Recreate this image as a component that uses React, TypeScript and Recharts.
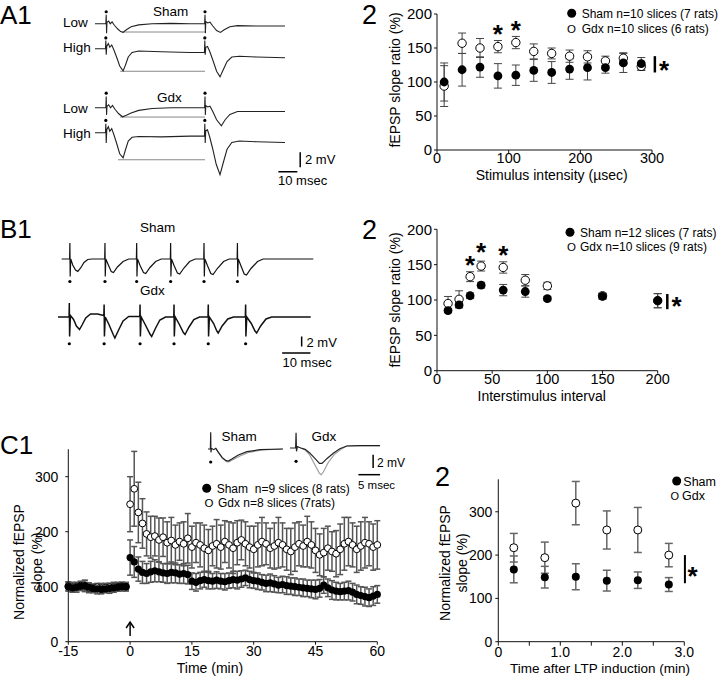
import React from 'react';
import {
  ScatterChart, Scatter, ComposedChart, Line, XAxis, YAxis, ErrorBar, ReferenceLine, ReferenceDot,
} from 'recharts';

const FONT = 'Arial, "Liberation Sans", Helvetica, sans-serif';

// ---------- A2: paired-pulse ratio vs stimulus intensity ----------
const a2Intensity = [10, 35, 60, 85, 110, 135, 160, 185, 210, 235, 260, 285];
const a2Sham = [100, 118, 122, 109, 110, 117, 114, 119, 121, 121, 128, 127];
const a2ShamErr = [28, 24, 15, 18, 15, 16, 16, 15, 18, 8, 14, 9];
const a2Gdx = [94, 157, 150, 152, 158, 145, 142, 138, 137, 131, 135, 123];
const a2GdxErr = [30, 15, 14, 9, 9, 11, 8, 9, 9, 7, 8, 6];
const a2Stars = [{ x: 85, y: 179 }, { x: 110, y: 185 }];

// ---------- B2: ratio vs interstimulus interval ----------
const b2Interval = [10, 20, 30, 40, 60, 80, 100, 150, 200];
const b2Sham = [85, 93, 106, 121, 114, 112, 102, 105, 99];
const b2ShamErr = [3, 4, 4, 4, 8, 8, 3, 4, 10];
const b2Gdx = [95, 101, 133, 148, 146, 128, 120, 106, 99];
const b2GdxErr = [10, 12, 7, 7, 8, 8, 5, 4, 10];
const b2Stars = [{ x: 30, y: 157 }, { x: 40, y: 175 }, { x: 60, y: 171 }];

// ---------- C1: LTP time course ----------
const c1Time = [
  -15, -14, -13, -12, -11, -10, -9, -8, -7, -6, -5, -4, -3, -2, -1,
  0, 1, 2, 3, 4, 5, 6, 7, 8, 9, 10, 11, 12, 13, 14, 15, 16, 17, 18, 19,
  20, 21, 22, 23, 24, 25, 26, 27, 28, 29, 30, 31, 32, 33, 34, 35, 36, 37, 38, 39,
  40, 41, 42, 43, 44, 45, 46, 47, 48, 49, 50, 51, 52, 53, 54, 55, 56, 57, 58, 59, 60,
];
const c1Sham = [
  100, 98, 99, 101, 102, 99, 97, 96, 95, 96, 97, 98, 99, 100, 100,
  153, 145, 132, 126, 124, 127, 129, 127, 125, 124,
  126, 125, 123, 124, 122, 110, 108, 111, 113, 111,
  110, 112, 110, 109, 111, 113, 112, 114, 116, 113,
  111, 110, 108, 106, 107, 105, 103, 104, 102, 101,
  100, 99, 98, 97, 96, 95, 97, 103, 98, 94,
  92, 91, 92, 93, 90, 86, 84, 82, 80, 83,
  86,
];
const c1ShamErr = [
  8, 7, 9, 8, 10, 8, 7, 9, 8, 7, 9, 8, 7, 8, 6,
  32, 28, 22, 20, 18, 19, 20, 18, 17, 18,
  19, 18, 17, 18, 17, 15, 16, 15, 14, 15,
  14, 15, 14, 15, 14, 15, 16, 15, 14, 15,
  14, 15, 14, 15, 16, 15, 14, 15, 16, 15,
  16, 15, 16, 15, 16, 17, 16, 15, 16, 17,
  16, 15, 16, 17, 16, 17, 16, 17, 16, 17,
  16,
];
const c1Gdx = [
  101, 99, 100, 102, 101, 98, 97, 99, 97, 98, 99, 99, 100, 101, 100,
  250, 278, 235, 215, 196, 190, 192, 185, 190, 180,
  184, 176, 182, 178, 188, 172, 180, 176, 170, 166,
  174, 178, 172, 182, 176, 170, 180, 185, 178, 172,
  168, 176, 182, 178, 170, 174, 180, 176, 168, 164,
  172, 178, 174, 182, 176, 166, 158, 162, 170, 164,
  160, 168, 178, 182, 176, 168, 174, 180, 178, 172,
  176,
];
const c1GdxErr = [
  8, 9, 7, 8, 10, 9, 8, 7, 9, 8, 7, 9, 8, 7, 8,
  50, 68, 55, 45, 40, 38, 36, 40, 35, 38,
  42, 36, 34, 40, 45, 38, 36, 40, 42, 38,
  36, 44, 40, 38, 42, 46, 40, 36, 40, 38,
  42, 40, 44, 38, 36, 42, 46, 40, 38, 42,
  44, 40, 38, 46, 42, 40, 38, 44, 40, 36,
  42, 46, 48, 44, 40, 42, 44, 46, 40, 42,
  44,
];

// ---------- C2: potentiation in first 3 min ----------
const c2Time = [0.25, 0.75, 1.25, 1.75, 2.25, 2.75];
const c2Sham = [167, 149, 150, 141, 142, 132];
const c2ShamErr = [31, 25, 30, 24, 19, 16];
const c2Gdx = [217, 194, 320, 258, 258, 200];
const c2GdxErr = [33, 36, 50, 44, 52, 27];

// ---------- example traces (t in msec, v in mV) ----------
const a1ShamLow = [[0, 0], [5.7, 0], [5.9, 1.2], [6.1, -1.25], [6.3, 0.2], [7.2, 0.35], [8, 0], [9, 0.25], [10.2, -0.2], [12, -0.7], [13.5, -1.05], [14.8, -1.15], [16.5, -0.8], [19, -0.4], [23, -0.15], [30, 0], [40, 0.05], [50, 0], [57.7, 0], [57.9, 1.2], [58.1, -1.25], [58.3, 0.3], [59.3, 0.1], [60.5, 0.2], [62, -0.3], [64, -0.9], [66, -1.15], [68, -0.8], [71, -0.4], [75, -0.25], [85, -0.3], [100, -0.3]];
const a1ShamHigh = [[0, 0], [5.5, 0], [5.7, 1.1], [5.9, -0.8], [6.2, 0.3], [7, 0.7], [7.8, 0.2], [8.8, 0.5], [10, -0.2], [11.5, -1.2], [13, -2.3], [14.8, -2.95], [16, -2.2], [17.5, -1.1], [19.5, -0.5], [23, -0.3], [35, -0.4], [50, -0.5], [57.6, -0.5], [57.8, 1.1], [58, -0.8], [58.3, 0.2], [59.2, 0.3], [60.3, -0.3], [62, -1.5], [64, -3], [65.8, -3.75], [67.5, -2.8], [69.5, -1.7], [72, -1.1], [76, -1.0], [85, -1.1], [100, -1.2]];
const a1GdxLow = [[0, 0], [5.7, 0], [5.9, 1.5], [6.1, -0.95], [6.3, 0.2], [7.2, 0.4], [8.2, 0], [9.2, 0.3], [10.5, -0.2], [12.5, -0.8], [14.5, -1.2], [16.5, -1.0], [19, -0.7], [23, -0.35], [30, -0.1], [40, 0], [57.7, 0], [57.9, 1.5], [58.1, -0.95], [58.3, 0.3], [59.3, 0.1], [60.5, 0.2], [62, -0.5], [64, -1.6], [66.5, -2.4], [68.5, -1.6], [71, -0.9], [75, -0.5], [85, -0.5], [100, -0.5]];
const a1GdxHigh = [[0, 0], [5.5, 0], [5.7, 1.2], [5.9, -1.35], [6.2, 0.4], [7, 0.8], [7.8, 0.2], [8.8, 0.55], [10, -0.3], [11.5, -1.5], [13, -2.8], [14.8, -3.35], [16, -2.3], [17.5, -1.1], [19.5, -0.6], [23, -0.5], [35, -0.55], [50, -0.45], [57.6, -0.45], [57.8, 1.2], [58, -1.35], [58.3, 0.3], [59.2, 0.4], [60.3, -0.5], [62, -2.2], [63.8, -4.2], [65.8, -5.6], [67.5, -4.0], [69.5, -2.2], [72, -1.3], [76, -1.1], [85, -1.2], [100, -1.3]];
const a1ShamLowPeak = [[14.2, -1.1], [57.9, -1.1]];
const a1ShamHighPeak = [[13.2, -3.0], [57.9, -3.0]];
const a1GdxLowPeak = [[13.2, -1.24], [57.9, -1.24]];
const a1GdxHighPeak = [[12.1, -3.6], [57.9, -3.6]];
const a1ScaleV = [[108, -2.6], [108, -4.6]];
const a1ScaleH = [[96.5, -5.2], [106.5, -5.2]];

const b1Sham = [[1.3, 0], [4.1, 0], [4.2, 3.2], [4.3, -3.5], [4.5, 0], [5.2, -1.2], [6.2, -2.2], [7, -2.5], [8, -1.8], [9.2, -0.7], [10.5, -0.1], [12, 0], [16.5, 0], [16.6, 3.2], [16.7, -3.5], [16.9, 0], [17.8, -1.2], [18.8, -2.5], [19.6, -2.7], [21, -1.6], [23, -0.5], [25, 0], [27.7, 0], [27.8, 3.2], [27.9, -3.5], [28.1, 0], [29, -1.3], [30.2, -2.7], [31, -2.9], [32.5, -1.7], [34.5, -0.5], [36.5, 0], [39.7, 0], [39.8, 3.2], [39.9, -3.5], [40.1, 0], [41, -1.3], [42.2, -2.8], [43, -3.0], [44.5, -1.8], [46.5, -0.5], [48.5, 0], [51.5, 0], [51.6, 3.2], [51.7, -3.5], [51.9, 0], [52.8, -1.3], [54, -2.9], [54.8, -3.1], [56.3, -1.9], [58.5, -0.5], [60.5, 0], [63.3, 0], [63.4, 3.2], [63.5, -3.5], [63.7, 0], [64.6, -1.3], [65.8, -3.0], [66.6, -3.2], [68.2, -1.9], [70.5, -0.5], [72.5, 0], [90.2, 0]];
const b1Gdx = [[0, 0], [3.9, 0], [4.0, 2.8], [4.1, -3.9], [4.4, 0.3], [5.5, -0.5], [6.5, -1.8], [7.6, -2.5], [8.6, -1.5], [9.8, -0.2], [11.5, 0.6], [14, 0.6], [16.2, 0.3], [16.3, 2.5], [16.4, -3.9], [16.7, 0], [18, -1.5], [19.5, -3.5], [20.1, -4.2], [21.5, -2.5], [23, -0.8], [25, 0.1], [28.9, 0.1], [29.0, 2.5], [29.1, -3.9], [29.4, 0], [30.8, -1.5], [32.5, -3.4], [33.1, -3.9], [34.5, -2.2], [36, -0.6], [38, 0], [40.9, 0], [41.0, 2.5], [41.1, -3.9], [41.4, 0], [42.8, -1.4], [44.3, -3.1], [44.9, -3.5], [46.3, -2], [48, -0.5], [50, 0], [53.0, 0], [53.1, 2.5], [53.2, -3.9], [53.5, 0], [55, -1.3], [56.1, -2.8], [56.6, -3.2], [58, -1.8], [60, -0.4], [62, 0], [66.2, 0], [66.3, 2.5], [66.4, -3.9], [66.7, 0], [68.3, -1.3], [69.6, -2.8], [70.2, -3.2], [71.6, -1.8], [73.5, -0.4], [75.5, 0], [89.3, 0]];
const b1ShamStim = [[4.2, -4.5], [16.6, -4.5], [27.8, -4.5], [39.8, -4.5], [51.6, -4.5], [63.4, -4.5]];
const b1GdxStim = [[4.0, -5.35], [16.3, -5.35], [29.0, -5.35], [41.0, -5.35], [53.1, -5.35], [66.3, -5.35]];
const b1ScaleV = [[86.1, -3.9], [86.1, -5.9]];
const b1ScaleH = [[79.2, -7.2], [89.2, -7.2]];

const c1ShamBase = [[0, 0], [0.55, 0], [0.62, 2.5], [0.68, -0.5], [0.8, 0.1], [1.3, -0.1], [1.8, 0.1], [2.4, -0.5], [3.3, -1.3], [4.2, -1.75], [4.7, -1.8], [5.5, -1.5], [7, -0.9], [9, -0.4], [12, -0.1], [17.3, 0]];
const c1ShamLtp = [[1.8, 0.1], [2.4, -0.5], [3.3, -1.4], [4.3, -1.9], [4.8, -1.95], [5.7, -1.6], [7.5, -1.0], [9.5, -0.5], [12.5, -0.15], [17.3, 0]];
const c1GdxBase = [[0, 0], [1.3, 0], [1.4, 2.3], [1.5, -0.5], [1.7, 0.2], [2.5, 0], [3.5, -0.2], [4.5, -0.7], [5.8, -1.6], [6.8, -2.3], [7.4, -2.3], [8.5, -1.6], [10, -0.8], [11.5, -0.1], [13.1, 0.3], [16, 0.35], [20.8, 0.35]];
const c1GdxLtp = [[2.5, 0], [3.5, -0.3], [4.5, -1.0], [5.8, -2.6], [6.8, -3.8], [7.2, -4.0], [7.7, -3.6], [8.8, -2.2], [10.2, -1.0], [11.8, -0.2], [13.1, 0.3], [16, 0.35], [20.8, 0.35]];
const c1ScaleV = [[19.2, -1.0], [19.2, -3.0]];
const c1ScaleH = [[15.8, -4.0], [20.8, -4.0]];

// ---------- helpers ----------
const toPts = (pairs: number[][]) => pairs.map(([t, v]) => ({ t, v }));
const rows = (xs: number[], ys: number[], es: number[]) => xs.map((x, i) => ({ x, y: ys[i], err: es[i] }));

function frame(left: number, top: number, width: number, height: number, px0: number, py0: number, px1: number, py1: number) {
  return {
    style: { position: 'absolute', left, top } as React.CSSProperties,
    width,
    height,
    margin: { top: py0 - top, right: left + width - px1, bottom: 0, left: 0 },
    yWidth: px0 - left,
    xHeight: top + height - py1,
  };
}

const axisLine = { stroke: '#111', strokeWidth: 1 };
const tick = (size: number) => ({ fill: '#000', fontSize: size, fontFamily: FONT });

const dotShape = (filled: boolean, r: number) => (p: any) =>
  filled
    ? <circle cx={p.cx} cy={p.cy} r={r} fill="#000" />
    : <circle cx={p.cx} cy={p.cy} r={r} fill="#fff" stroke="#000" strokeWidth={1} />;

const starShape = (size: number) => (p: any) => (
  <text x={p.cx} y={p.cy + size * 0.55} textAnchor="middle" fontSize={size} fontWeight="bold" fontFamily={FONT} fill="#000">*</text>
);

const arrowHead = (p: any) => (
  <path d={`M${p.cx - 4},${p.cy + 6} L${p.cx},${p.cy} L${p.cx + 4},${p.cy + 6}`} fill="none" stroke="#000" strokeWidth={1.5} />
);

function errSeries(key: string, data: any[], filled: boolean, r: number, barColor: string, barW: number, cap: number) {
  return (
    <Scatter key={key} data={data} dataKey="y" isAnimationActive={false} shape={dotShape(filled, r)}>
      <ErrorBar dataKey="err" direction="y" width={cap} stroke={barColor} strokeWidth={barW} isAnimationActive={false} />
    </Scatter>
  );
}

type TraceSpec = { pts: number[][]; color: string; w: number };

function TraceChart(props: {
  left: number; top: number; xDomain: number[]; yDomain: number[];
  pxX: number; pxY: number; traces: TraceSpec[]; stims?: number[][];
}) {
  const { left, top, xDomain, yDomain, pxX, pxY, traces, stims } = props;
  const width = (xDomain[1] - xDomain[0]) * pxX;
  const height = (yDomain[1] - yDomain[0]) * pxY;
  return (
    <div style={{ position: 'absolute', left, top }}>
      <ComposedChart width={width} height={height} margin={{ top: 0, right: 0, bottom: 0, left: 0 }} style={{ overflow: 'visible' }}>
        <XAxis type="number" dataKey="t" domain={xDomain} hide />
        <YAxis type="number" dataKey="v" domain={yDomain} hide />
        {traces.map((tr, i) => (
          <Line key={i} data={toPts(tr.pts)} dataKey="v" type="linear" stroke={tr.color} strokeWidth={tr.w}
            dot={false} activeDot={false} isAnimationActive={false} />
        ))}
        {stims && (
          <Scatter data={toPts(stims)} dataKey="v" isAnimationActive={false}
            shape={(p: any) => <circle cx={p.cx} cy={p.cy} r={1.6} fill="#000" />} />
        )}
      </ComposedChart>
    </div>
  );
}

function VText({ x, y, size, children }: { x: number; y: number; size: number; children: React.ReactNode }) {
  return (
    <text transform={`translate(${x},${y}) rotate(-90)`} textAnchor="middle" dominantBaseline="central" fontSize={size}>
      {children}
    </text>
  );
}

// ---------- main ----------
export default function App() {
  const A2 = frame(360, 0, 360, 200, 437, 14, 652, 150);
  const B2 = frame(360, 200, 360, 220, 437, 229.3, 657.7, 370.7);
  const C1 = frame(0, 420, 400, 258, 68.3, 449.2, 377.3, 641.7);
  const C2 = frame(400, 420, 320, 258, 498.3, 479.3, 684.3, 641.7);

  const c1ShamRows = rows(c1Time, c1Sham, c1ShamErr);
  const c1GdxRows = rows(c1Time, c1Gdx, c1GdxErr);

  return (
    <div style={{ position: 'absolute', left: 0, top: 0, width: 720, height: 678, background: '#fff', fontFamily: FONT }}>
      {/* A1 traces */}
      <TraceChart left={95} top={5.25} xDomain={[0, 110]} yDomain={[-6, 2.5]} pxX={1.9} pxY={7.5}
        traces={[{ pts: a1ShamLowPeak, color: '#888', w: 1 }, { pts: a1ShamLow, color: '#222', w: 1.1 }]}
        stims={[[5.9, 1.6], [57.9, 1.6]]} />
      <TraceChart left={95} top={30.25} xDomain={[0, 110]} yDomain={[-6, 2.5]} pxX={1.9} pxY={7.5}
        traces={[{ pts: a1ShamHighPeak, color: '#888', w: 1 }, { pts: a1ShamHigh, color: '#222', w: 1.1 }]}
        stims={[[5.7, 1.45], [57.8, 1.45]]} />
      <TraceChart left={95} top={89.25} xDomain={[0, 110]} yDomain={[-6, 2.5]} pxX={1.9} pxY={7.5}
        traces={[{ pts: a1GdxLowPeak, color: '#888', w: 1 }, { pts: a1GdxLow, color: '#222', w: 1.1 }]}
        stims={[[5.9, 1.95], [57.9, 1.95]]} />
      <TraceChart left={95} top={114.25} xDomain={[0, 110]} yDomain={[-6, 2.5]} pxX={1.9} pxY={7.5}
        traces={[
          { pts: a1GdxHighPeak, color: '#888', w: 1 }, { pts: a1GdxHigh, color: '#222', w: 1.1 },
          { pts: a1ScaleV, color: '#000', w: 1.5 }, { pts: a1ScaleH, color: '#000', w: 1.5 },
        ]}
        stims={[[5.7, 1.65], [57.8, 1.65]]} />

      {/* B1 traces */}
      <TraceChart left={58} top={239.3} xDomain={[0, 92]} yDomain={[-5, 4]} pxX={2.83} pxY={5}
        traces={[{ pts: b1Sham, color: '#111', w: 1.2 }]} stims={b1ShamStim} />
      <TraceChart left={58} top={297.3} xDomain={[0, 92]} yDomain={[-8, 4]} pxX={2.83} pxY={5}
        traces={[
          { pts: b1Gdx, color: '#111', w: 1.5 },
          { pts: b1ScaleV, color: '#000', w: 1.5 }, { pts: b1ScaleH, color: '#000', w: 1.5 },
        ]}
        stims={b1GdxStim} />

      {/* C1 inset traces */}
      <TraceChart left={208.3} top={429.3} xDomain={[0, 18]} yDomain={[-2.5, 3]} pxX={4.33} pxY={6.67}
        traces={[{ pts: c1ShamLtp, color: '#999', w: 1.1 }, { pts: c1ShamBase, color: '#222', w: 1.2 }]}
        stims={[[0.62, -1.95]]} />
      <TraceChart left={290} top={428.3} xDomain={[0, 21]} yDomain={[-4.5, 3]} pxX={4.33} pxY={6.67}
        traces={[
          { pts: c1GdxLtp, color: '#999', w: 1.1 }, { pts: c1GdxBase, color: '#222', w: 1.2 },
          { pts: c1ScaleV, color: '#000', w: 1.5 }, { pts: c1ScaleH, color: '#000', w: 1.5 },
        ]}
        stims={[[1.4, -2.0]]} />

      {/* A2 */}
      <div style={A2.style}>
        <ScatterChart width={A2.width} height={A2.height} margin={A2.margin} style={{ overflow: 'visible' }}>
          <XAxis type="number" dataKey="x" domain={[0, 300]} ticks={[0, 100, 200, 300]} interval={0}
            height={A2.xHeight} tickSize={3} tickMargin={0} axisLine={axisLine} tickLine={axisLine} tick={tick(14.5)} />
          <YAxis type="number" dataKey="y" domain={[0, 200]} ticks={[0, 50, 100, 150, 200]} interval={0}
            width={A2.yWidth} tickSize={3} tickMargin={2} axisLine={axisLine} tickLine={axisLine} tick={tick(15)} />
          {errSeries('g', rows(a2Intensity, a2Gdx, a2GdxErr), false, 4.2, '#444', 1, 4)}
          {errSeries('s', rows(a2Intensity, a2Sham, a2ShamErr), true, 4.4, '#444', 1, 4)}
          {a2Stars.map((s, i) => <ReferenceDot key={i} x={s.x} y={s.y} ifOverflow="visible" shape={starShape(26)} />)}
          <ReferenceLine segment={[{ x: 304, y: 114 }, { x: 304, y: 138 }]} stroke="#000" strokeWidth={2.5} ifOverflow="visible" />
          <ReferenceDot x={317} y={125} ifOverflow="visible" shape={starShape(26)} />
        </ScatterChart>
      </div>

      {/* B2 */}
      <div style={B2.style}>
        <ScatterChart width={B2.width} height={B2.height} margin={B2.margin} style={{ overflow: 'visible' }}>
          <XAxis type="number" dataKey="x" domain={[0, 200]} ticks={[0, 50, 100, 150, 200]} interval={0}
            height={B2.xHeight} tickSize={3} tickMargin={0} axisLine={axisLine} tickLine={axisLine} tick={tick(14.5)} />
          <YAxis type="number" dataKey="y" domain={[0, 200]} ticks={[0, 50, 100, 150, 200]} interval={0}
            width={B2.yWidth} tickSize={3} tickMargin={2} axisLine={axisLine} tickLine={axisLine} tick={tick(15)} />
          {errSeries('g', rows(b2Interval, b2Gdx, b2GdxErr), false, 4.2, '#444', 1, 4)}
          {errSeries('s', rows(b2Interval, b2Sham, b2ShamErr), true, 4.4, '#444', 1, 4)}
          {b2Stars.map((s, i) => <ReferenceDot key={i} x={s.x} y={s.y} ifOverflow="visible" shape={starShape(26)} />)}
          <ReferenceLine segment={[{ x: 208.7, y: 87 }, { x: 208.7, y: 108.5 }]} stroke="#000" strokeWidth={2.5} ifOverflow="visible" />
          <ReferenceDot x={217} y={99} ifOverflow="visible" shape={starShape(26)} />
        </ScatterChart>
      </div>

      {/* C1 */}
      <div style={C1.style}>
        <ScatterChart width={C1.width} height={C1.height} margin={C1.margin} style={{ overflow: 'visible' }}>
          <XAxis type="number" dataKey="x" domain={[-15, 60]} ticks={[-15, 0, 15, 30, 45, 60]} interval={0}
            height={C1.xHeight} tickSize={3} tickMargin={1} axisLine={axisLine} tickLine={axisLine} tick={tick(14)} />
          <YAxis type="number" dataKey="y" domain={[0, 350]} ticks={[0, 100, 200, 300]} interval={0}
            width={C1.yWidth} tickSize={3} tickMargin={7} axisLine={axisLine} tickLine={axisLine} tick={tick(14)} />
          {errSeries('g', c1GdxRows, false, 3.4, '#555', 1.5, 3)}
          {errSeries('s', c1ShamRows, true, 3.6, '#555', 1.5, 3)}
          <ReferenceLine segment={[{ x: 0, y: 10.5 }, { x: 0, y: 35.5 }]} stroke="#000" strokeWidth={1.5} ifOverflow="visible" />
          <ReferenceDot x={0} y={35.8} ifOverflow="visible" shape={arrowHead} />
        </ScatterChart>
      </div>

      {/* C2 */}
      <div style={C2.style}>
        <ScatterChart width={C2.width} height={C2.height} margin={C2.margin} style={{ overflow: 'visible' }}>
          <XAxis type="number" dataKey="x" domain={[0, 3]} ticks={[0, 0.5, 1, 1.5, 2, 2.5, 3]} interval={0}
            tickFormatter={(v: number) => (v === 0 ? '0' : Number.isInteger(v) ? v.toFixed(1) : '')}
            height={C2.xHeight} tickSize={4} tickMargin={1} axisLine={axisLine} tickLine={axisLine} tick={tick(14)} />
          <YAxis type="number" dataKey="y" domain={[0, 375]} ticks={[0, 100, 200, 300]} interval={0}
            width={C2.yWidth} tickSize={3} tickMargin={3} axisLine={axisLine} tickLine={axisLine} tick={tick(14)} />
          {errSeries('g', rows(c2Time, c2Gdx, c2GdxErr), false, 4, '#666', 1.5, 4)}
          {errSeries('s', rows(c2Time, c2Sham, c2ShamErr), true, 4, '#666', 1.5, 4)}
          <ReferenceLine segment={[{ x: 3.01, y: 135 }, { x: 3.01, y: 200 }]} stroke="#000" strokeWidth={2} ifOverflow="visible" />
          <ReferenceDot x={3.135} y={165} ifOverflow="visible" shape={starShape(26)} />
        </ScatterChart>
      </div>

      {/* text overlay */}
      <svg width={720} height={678} style={{ position: 'absolute', left: 0, top: 0, pointerEvents: 'none' }}
        fontFamily={FONT} fill="#000">
        <text x={0} y={24} fontSize={26}>A1</text>
        <text x={0} y={238} fontSize={26}>B1</text>
        <text x={0} y={454} fontSize={26}>C1</text>
        <text x={362} y={24} fontSize={27}>2</text>
        <text x={362} y={239} fontSize={27}>2</text>
        <text x={435} y={486} fontSize={27}>2</text>

        {/* A1 labels */}
        <text x={63} y={27} fontSize={13.5}>Low</text>
        <text x={63} y={52} fontSize={13.5}>High</text>
        <text x={63} y={112.5} fontSize={13.5}>Low</text>
        <text x={63} y={138} fontSize={13.5}>High</text>
        <text x={153} y={16} fontSize={13.5}>Sham</text>
        <text x={157} y={101.5} fontSize={13.5}>Gdx</text>
        <text x={305} y={163.5} fontSize={13}>2 mV</text>
        <text x={278} y={185} fontSize={13}>10 msec</text>

        {/* B1 labels */}
        <text x={140} y={231.5} fontSize={13.5}>Sham</text>
        <text x={140} y={294.5} fontSize={13.5}>Gdx</text>
        <text x={306.5} y={347} fontSize={13}>2 mV</text>
        <text x={282.5} y={366.5} fontSize={13}>10 msec</text>

        {/* C1 inset labels */}
        <text x={221.5} y={441} fontSize={13.5}>Sham</text>
        <text x={311.5} y={441} fontSize={13.5}>Gdx</text>
        <text x={377} y={467} fontSize={12}>2 mV</text>
        <text x={358} y={488.5} fontSize={11.5}>5 msec</text>

        {/* legends */}
        <circle cx={571.7} cy={13.3} r={4.5} fill="#000" />
        <text x={581.7} y={18.3} fontSize={12}>Sham n=10 slices (7 rats)</text>
        <text x={567} y={32.7} fontSize={11.5}>O</text>
        <text x={581.7} y={32.7} fontSize={12}>Gdx n=10 slices (6 rats)</text>

        <circle cx={570} cy={232.3} r={4.5} fill="#000" />
        <text x={580} y={237.3} fontSize={12}>Sham n=12 slices (7 rats)</text>
        <text x={567} y={250.7} fontSize={11.5}>O</text>
        <text x={580} y={250.7} fontSize={12}>Gdx n=10 slices (9 rats)</text>

        <circle cx={206.7} cy={488.3} r={4.5} fill="#000" />
        <text x={216.7} y={493} fontSize={12} style={{ whiteSpace: 'pre' }}>Sham  n=9 slices (8 rats)</text>
        <text x={204.5} y={507.3} fontSize={11.5}>O</text>
        <text x={218} y={507.3} fontSize={12}>Gdx n=8 slices (7rats)</text>

        <circle cx={676.7} cy={481} r={4.5} fill="#000" />
        <text x={683.3} y={485.7} fontSize={12.5}>Sham</text>
        <text x={670.5} y={500} fontSize={11}>O</text>
        <text x={682} y={500} fontSize={12.5}>Gdx</text>

        {/* axis titles */}
        <text x={551.7} y={180} fontSize={14} textAnchor="middle">Stimulus intensity (µsec)</text>
        <VText x={395} y={80} size={14}>fEPSP slope ratio (%)</VText>
        <text x={541.7} y={401} fontSize={14} textAnchor="middle">Interstimulus interval</text>
        <VText x={395} y={300} size={14}>fEPSP slope ratio (%)</VText>
        <text x={210} y={673} fontSize={14} textAnchor="middle">Time (min)</text>
        <VText x={19} y={562} size={14}>Normalized fEPSP</VText>
        <VText x={37} y={562} size={14}>slope (%)</VText>
        <text x={600} y={673} fontSize={13.5} textAnchor="middle">Time after LTP induction (min)</text>
        <VText x={445} y={563} size={14}>Normalized fEPSP</VText>
        <VText x={461.7} y={563} size={14}>slope (%)</VText>
      </svg>
    </div>
  );
}
